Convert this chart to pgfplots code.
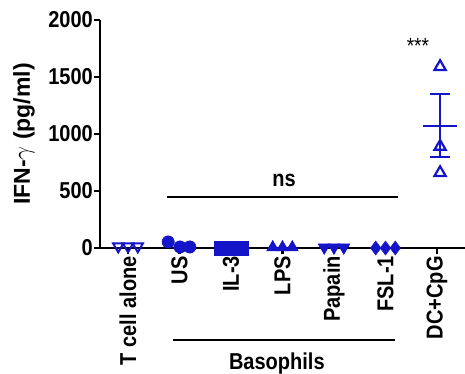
\documentclass[border=0pt]{standalone}
\usepackage{pgfplots}
\pgfplotsset{compat=1.18}
\usepackage{fontspec}
\setmainfont{Liberation Sans}
\newfontfamily\nfont{Liberation Sans}[FakeStretch=0.87]
\definecolor{mkblue}{RGB}{20,20,200}
\newcommand{\lab}{\fontsize{23}{26}\selectfont\nfont\bfseries}
\begin{document}
\begin{tikzpicture}
\begin{axis}[
  scale only axis, width=365pt, height=228pt,
  xmin=-0.544, xmax=6.544, ymin=0, ymax=2000,
  axis x line=bottom, axis y line=left,
  axis line style={-, line width=2.2pt},
  clip=false,
  ytick={0,500,1000,1500,2000},
  xtick={0,1,2,3,4,5,6},
  xticklabels={T cell alone,US,IL-3,LPS,Papain,FSL-1,DC+CpG},
  tick align=outside, major tick length=6pt,
  tick style={line width=2.2pt, black},
  /pgf/number format/assume math mode=true,
  /pgf/number format/1000 sep={},
  yticklabel style={font=\lab, inner sep=1pt},
  xticklabel style={font=\lab, rotate=90, anchor=east, inner sep=2pt},
  every axis plot/.append style={line width=2.2pt, mkblue},
]
% T cell alone
\addplot[only marks, mark=triangle, mark size=6, mark options={rotate=180, line width=2pt}] coordinates {(-0.19,15) (0,15) (0.19,15)};
% US
\addplot[only marks, mark=*, mark size=6.2, mark options={line width=0.5pt}] coordinates {(0.78,53) (1.01,9) (1.2,9)};
% IL-3
\addplot[only marks, mark=square*, mark size=7.2, mark options={line width=0.5pt}] coordinates {(1.81,0) (2.0,0) (2.19,0)};
% LPS
\addplot[only marks, mark=triangle*, mark size=7, mark options={line width=0.5pt}] coordinates {(2.81,5) (3.0,5) (3.19,5)};
% Papain
\addplot[only marks, mark=triangle*, mark size=7, mark options={rotate=180, line width=0.5pt}] coordinates {(3.81,5) (4.0,5) (4.19,5)};
% FSL-1
\addplot[only marks, mark=diamond*, mark size=7, mark options={line width=0.5pt}] coordinates {(4.81,0) (5.0,0) (5.19,0)};
% DC+CpG
\addplot[only marks, mark=triangle, mark size=6.5, mark options={line width=2.2pt}] coordinates {(6.06,1590) (6.06,890) (6.06,660)};
% mean and SEM
\addplot[no marks] coordinates {(5.73,1070) (6.39,1070)};
\addplot[no marks] coordinates {(6.06,800) (6.06,1350)};
\addplot[no marks] coordinates {(5.87,1350) (6.25,1350)};
\addplot[no marks] coordinates {(5.87,800) (6.25,800)};
% annotations
\draw[line width=2.2pt, black] (axis cs:0.76,447) -- (axis cs:5.24,447);
\node[font=\lab] at (axis cs:3.03,590) {ns};
\node[font=\fontsize{22}{26}\selectfont\nfont, anchor=base] at (axis cs:5.63,1710) {***};
\draw[line width=2.2pt, black] ([yshift=-92pt]axis cs:0.87,0) -- ([yshift=-92pt]axis cs:5.18,0);
\node[font=\lab, anchor=base] at ([yshift=-121pt]axis cs:2.89,0) {Basophils};
\node[rotate=90, font=\fontsize{23}{26}\selectfont\bfseries] at ([xshift=-76pt]rel axis cs:0,0.5) {IFN-$\gamma$ (pg/ml)};
\coordinate (O) at (rel axis cs:0,0);
\coordinate (T) at (rel axis cs:1,1);
\end{axis}
\pgfresetboundingbox
\path[use as bounding box] ([shift={(-100pt,-125pt)}]O) rectangle ([shift={(0pt,20pt)}]T);
\end{tikzpicture}
\end{document}
